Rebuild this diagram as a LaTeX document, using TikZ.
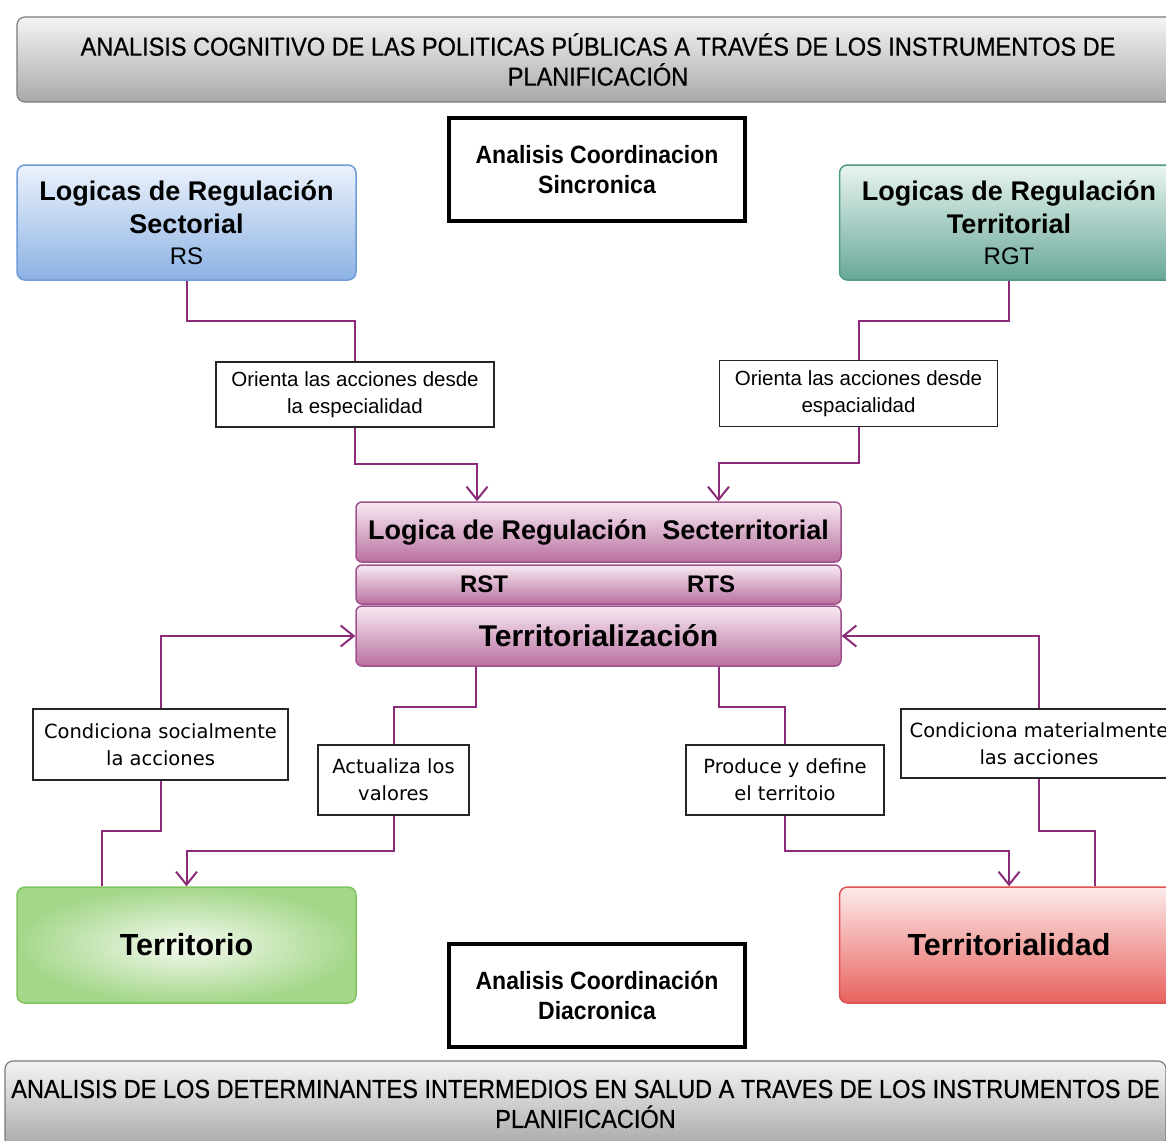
\documentclass[tikz,border=0pt]{standalone}
\usepackage{fontspec}
\setmainfont{Liberation Sans}
\newfontfamily\narrowfont[FakeStretch=0.905,FakeBold=0.6]{Liberation Sans}
\newfontfamily\coordfont[FakeStretch=0.92]{Liberation Sans}
\newfontfamily\verdfont{DejaVu Sans}
\usetikzlibrary{arrows.meta}

\definecolor{connc}{HTML}{8B2A78}
\definecolor{bandtop}{HTML}{F4F4F4}
\definecolor{bandbot}{HTML}{A9A9A9}
\definecolor{bandline}{HTML}{7A7A7A}
\definecolor{bluetop}{HTML}{ECF2FC}
\definecolor{bluebot}{HTML}{8CB2E3}
\definecolor{blueline}{HTML}{6E9CD8}
\definecolor{tealtop}{HTML}{E9F4F1}
\definecolor{tealbot}{HTML}{68A898}
\definecolor{tealline}{HTML}{4F9986}
\definecolor{mautop}{HTML}{F8EAF3}
\definecolor{maubot}{HTML}{B9709F}
\definecolor{mauline}{HTML}{A0508A}
\definecolor{greenin}{HTML}{F4FAF0}
\definecolor{greenout}{HTML}{A5D78A}
\definecolor{greenline}{HTML}{7FC45C}
\definecolor{redtop}{HTML}{FCEAEA}
\definecolor{redbot}{HTML}{E8625E}
\definecolor{redline}{HTML}{E05252}

\tikzset{
  band/.style={draw=bandline, line width=1.2pt, rounded corners=8pt,
    top color=bandtop, bottom color=bandbot, align=center,
    font=\narrowfont\fontsize{26}{30}\selectfont, inner sep=0pt},
  logicbox/.style={rounded corners=8pt, line width=1.5pt, align=center,
    minimum width=339pt, minimum height=115pt, inner sep=0pt},
  maubox/.style={draw=mauline, line width=1.5pt, rounded corners=6pt,
    top color=mautop, bottom color=maubot, minimum width=485pt, inner sep=0pt,
    font=\bfseries\fontsize{27}{32}\selectfont},
  coordbox/.style={draw=black, line width=3.5pt, minimum width=296pt,
    minimum height=103pt, align=center, inner sep=0pt,
    font=\coordfont\bfseries\fontsize{25}{30}\selectfont},
  uplabel/.style={draw=black!85, line width=1.5pt, fill=white, align=center,
    inner sep=0pt, font=\fontsize{20.5}{27}\selectfont},
  lowlabel/.style={draw=black!85, line width=1.5pt, fill=white, align=center,
    inner sep=0pt, font=\verdfont\fontsize{19.5}{27}\selectfont},
  conn/.style={draw=connc, line width=2pt},
  arr/.style={conn, -{Straight Barb[length=13pt,width=21pt,line width=2pt]}},
}

\begin{document}
\begin{tikzpicture}[x=1pt, y=-1pt]
\useasboundingbox[fill=white] (0,0) rectangle (1166,1140);

% heading bands
\node[band, minimum width=1162pt, minimum height=85pt] (head) at (598,59.5)
  {ANALISIS COGNITIVO DE LAS POLITICAS PÚBLICAS A TRAVÉS DE LOS INSTRUMENTOS DE\\PLANIFICACIÓN};
\node[band, minimum width=1161pt, minimum height=86pt] (foot) at (585.5,1104)
  {ANALISIS DE LOS DETERMINANTES INTERMEDIOS EN SALUD A TRAVES DE LOS INSTRUMENTOS DE\\PLANIFICACIÓN};

% coordination boxes
\node[coordbox] (sync) at (597,169.5) {Analisis Coordinacion\\Sincronica};
\node[coordbox] (diac) at (597,995.5) {Analisis Coordinación\\Diacronica};

% regulation logics
\node[logicbox, draw=blueline, top color=bluetop, bottom color=bluebot,
  font=\bfseries\fontsize{27}{33}\selectfont] (rs) at (186.5,222.5)
  {Logicas de Regulación\\Sectorial\\[-2pt]\mdseries\fontsize{24}{30}\selectfont RS};
\node[logicbox, draw=tealline, top color=tealtop, bottom color=tealbot,
  font=\bfseries\fontsize{27}{33}\selectfont] (rgt) at (1009,222.5)
  {Logicas de Regulación\\Territorial\\[-2pt]\mdseries\fontsize{24}{30}\selectfont RGT};

% central stacked block
\node[maubox, minimum height=60pt] (lst) at (598.5,532) {Logica de Regulación\ \ Secterritorial};
\node[maubox, minimum height=39pt] (lmid) at (598.5,584.5) {};
\node[font=\bfseries\fontsize{24}{28}\selectfont] (rst) at (484,584.5) {RST};
\node[font=\bfseries\fontsize{24}{28}\selectfont] (rts) at (711,584.5) {RTS};
\node[maubox, minimum height=60pt, font=\bfseries\fontsize{30}{34}\selectfont] (lter) at (598.5,636) {Territorialización};

% outcome boxes
\node[logicbox, minimum height=116pt, draw=greenline, inner color=greenin, outer color=greenout,
  font=\bfseries\fontsize{30.5}{34}\selectfont] (terr) at (186.5,945) {Territorio};
\node[logicbox, minimum height=116pt, draw=redline, top color=redtop, bottom color=redbot,
  font=\bfseries\fontsize{30.5}{34}\selectfont] (tdad) at (1009,945) {Territorialidad};

% relation labels
\node[uplabel, minimum width=278pt, minimum height=65pt] (lo1) at (355,394.5)
  {Orienta las acciones desde\\la especialidad};
\node[uplabel, minimum width=278pt, minimum height=66pt] (lo2) at (858.5,393.5)
  {Orienta las acciones desde\\espacialidad};
\node[lowlabel, minimum width=255pt, minimum height=71pt] (lcs) at (160.5,744.5)
  {Condiciona socialmente\\la acciones};
\node[lowlabel, minimum width=151pt, minimum height=70pt] (lact) at (393.5,780)
  {Actualiza los\\valores};
\node[lowlabel, minimum width=198pt, minimum height=70pt] (lpd) at (785,780)
  {Produce y define\\el territoio};
\node[lowlabel, minimum width=276pt, minimum height=69pt] (lcm) at (1039,743.5)
  {Condiciona materialmente\\las acciones};

% connectors: regulation logics into the central block
\draw[conn] (rs.south) -- ++(0,40) -| (lo1.north);
\draw[arr] (lo1.south) -- ++(0,36) -| ([xshift=-121.5pt]lst.north);
\draw[conn] (rgt.south) -- ++(0,40) -| (lo2.north);
\draw[arr] (lo2.south) -- ++(0,36) -| ([xshift=120pt]lst.north);

% connectors: territory side
\draw[conn] ([xshift=-84.5pt]terr.north) -- ++(0,-55) -| (lcs.south);
\draw[arr] (lcs.north) |- (lter.west);
\draw[conn] ([xshift=-122.5pt]lter.south) -- ++(0,40) -| (lact.north);
\draw[arr] (lact.south) -- ++(0,35) -| (terr.north);

% connectors: territoriality side
\draw[conn] ([xshift=120.5pt]lter.south) -- ++(0,40) -| (lpd.north);
\draw[arr] (lpd.south) -- ++(0,35) -| (tdad.north);
\draw[conn] ([xshift=86pt]tdad.north) -- ++(0,-55) -| (lcm.south);
\draw[arr] (lcm.north) |- (lter.east);
\end{tikzpicture}
\end{document}
